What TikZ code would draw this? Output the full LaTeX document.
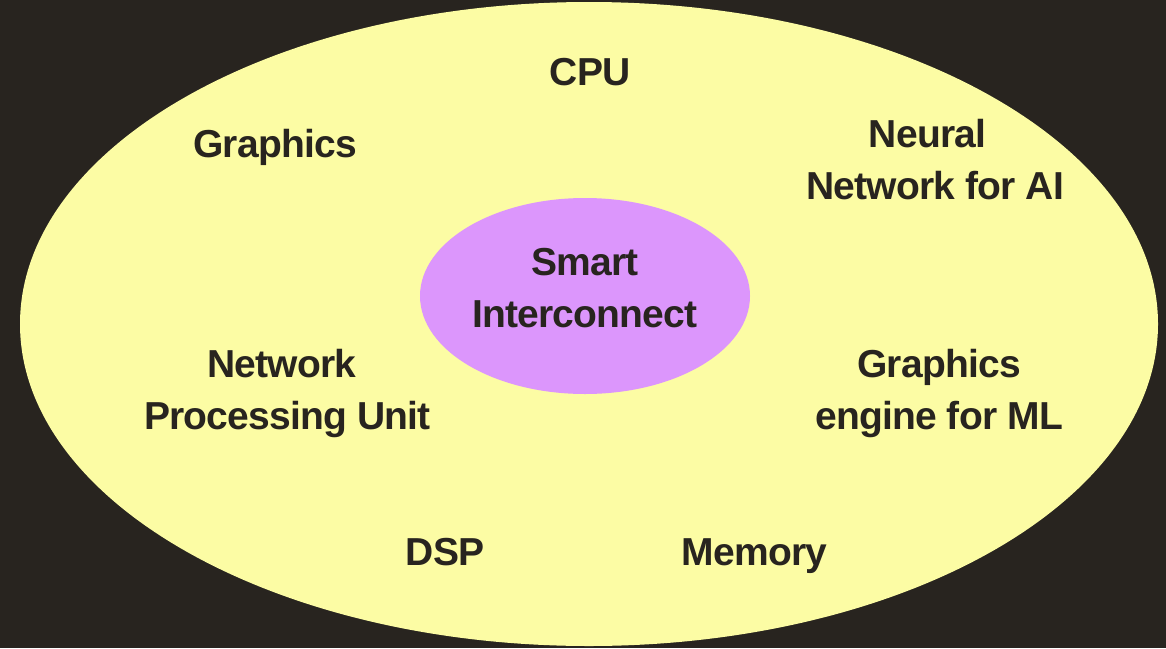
\documentclass[tikz,border=0pt]{standalone}
\usepackage{fontspec}
\setmainfont{Liberation Sans}[LetterSpace=-2]
\usetikzlibrary{shapes.geometric}
\definecolor{bgdark}{HTML}{28241F}
\definecolor{paleyellow}{HTML}{FCFCA4}
\definecolor{lilac}{HTML}{DC96FC}
\definecolor{inktext}{HTML}{28241F}
\newcommand{\twolines}[2]{\begin{tabular}[t]{@{}c@{}}#1\\#2\end{tabular}}
\begin{document}
\begin{tikzpicture}[x=1pt,y=-1pt,
  lbl/.style={font=\fontsize{39}{52}\selectfont\bfseries, text=inktext, inner sep=0pt, anchor=base},
  blob/.style={ellipse, inner sep=0pt, draw=none}]
\fill[bgdark] (0,0) rectangle (1166,648);
\useasboundingbox (0,0) rectangle (1166,648);
\node[blob, fill=paleyellow, minimum width=1138pt, minimum height=644pt] (outer) at (589,324) {};
\node[blob, fill=lilac, minimum width=330pt, minimum height=196pt] (inner) at (585,296) {};
\node[lbl] (hub) at (585,275) {\twolines{Smart}{Interconnect}};
\node[lbl] (cpu) at (590,85) {CPU};
\node[lbl] (gfx) at (275,157) {Graphics};
\node[lbl] (nn) at (935,147) {\twolines{Neural\hphantom{\kern15pt}}{Network for AI}};
\node[lbl] (npu) at (287.5,377) {\twolines{Network\hphantom{\kern11pt}}{Processing Unit}};
\node[lbl] (gml) at (939,377) {\twolines{Graphics}{engine for ML}};
\node[lbl] (dsp) at (445,565) {DSP};
\node[lbl] (mem) at (754.5,565) {Memory};
\end{tikzpicture}
\end{document}
